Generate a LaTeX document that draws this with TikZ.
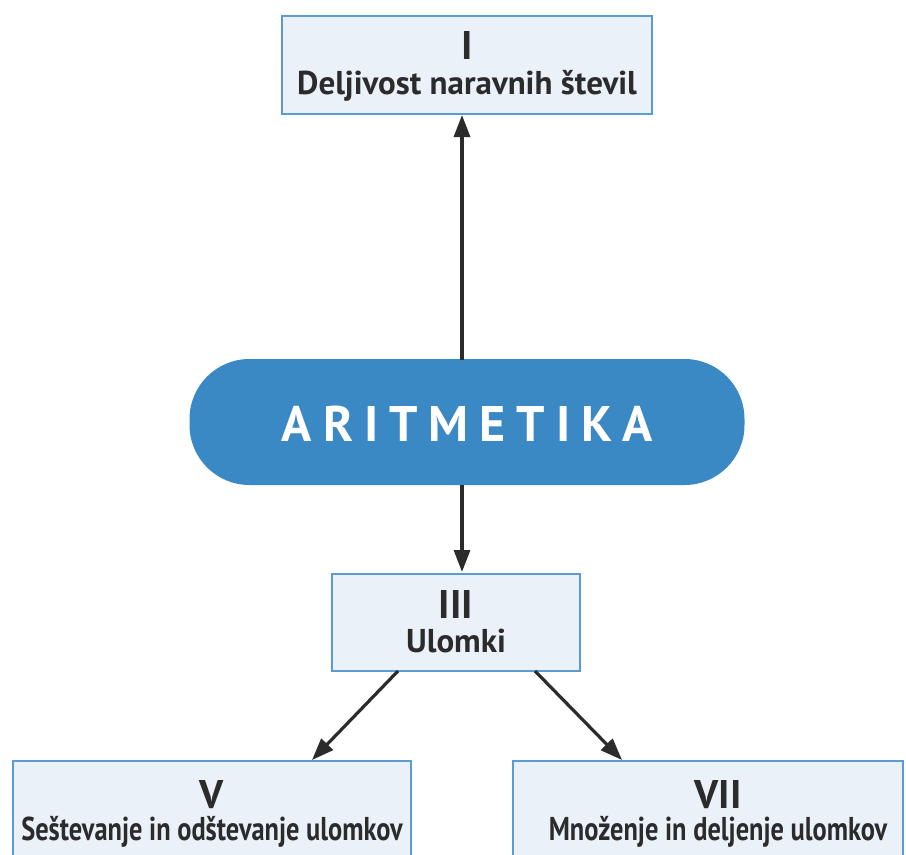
\documentclass[tikz,border=0pt]{standalone}
\usepackage{fontspec}
\setmainfont{PT Sans}
\usetikzlibrary{arrows.meta}
\definecolor{boxfill}{HTML}{EAF1F9}
\definecolor{boxline}{HTML}{5B9BD5}
\definecolor{pill}{HTML}{3A88C4}
\definecolor{ink}{HTML}{2B2B2B}
\tikzset{
  topicbox/.style={draw=boxline, line width=2pt, fill=boxfill, inner sep=0pt},
  numtext/.style={font=\bfseries\fontsize{40}{40}\selectfont, text=ink},
  subtext/.style={font=\bfseries\fontsize{33}{33}\selectfont, text=ink},
  conn/.style={draw=ink, line width=3.2pt, -{Triangle[length=22pt,width=16pt]}},
}
\begin{document}
\begin{tikzpicture}[x=1pt,y=-1pt]
\useasboundingbox (0,0) rectangle (906,855);
% boxes
\node[topicbox, minimum width=370pt, minimum height=98pt] (b1) at (467,65) {};
\node[numtext] (t1) at (467,45) {I};
\node[subtext] (s1) at (467,86) {Deljivost naravnih števil};

\node[draw=none, fill=pill, rounded corners=60pt, minimum width=555pt, minimum height=126pt] (ar) at (467,422) {};
\node[font=\bfseries\fontsize{50}{50}\selectfont\addfontfeature{LetterSpace=22}, text=white] (art) at (467,424) {ARITMETIKA};

\node[topicbox, minimum width=248pt, minimum height=97pt] (b3) at (456,622) {};
\node[numtext] (t3) at (456,604) {III};
\node[subtext] (s3) at (456,641) {Ulomki};

\node[topicbox, minimum width=398pt, minimum height=110pt, anchor=north west] (b5) at (12,760) {};
\node[numtext] (t5) at (212,795) {V};
\node[subtext] (s5) at (212,832) {\scalebox{0.8}[1]{Seštevanje in odštevanje ulomkov}};

\node[topicbox, minimum width=390pt, minimum height=110pt, anchor=north west] (b7) at (512,760) {};
\node[numtext] (t7) at (718,795) {VII};
\node[subtext] (s7) at (718,832) {\scalebox{0.8}[1]{Množenje in deljenje ulomkov}};

% connectors
\coordinate (a1) at (462,360);
\coordinate (a1e) at (462,115);
\draw[conn] (a1) -- (a1e);
\coordinate (a2) at (462,485);
\coordinate (a2e) at (462,572);
\draw[conn] (a2) -- (a2e);
\coordinate (a3) at (398,671);
\coordinate (a3e) at (312,760);
\draw[conn] (a3) -- (a3e);
\coordinate (a4) at (535,671);
\coordinate (a4e) at (622,760);
\draw[conn] (a4) -- (a4e);
\end{tikzpicture}
\end{document}
